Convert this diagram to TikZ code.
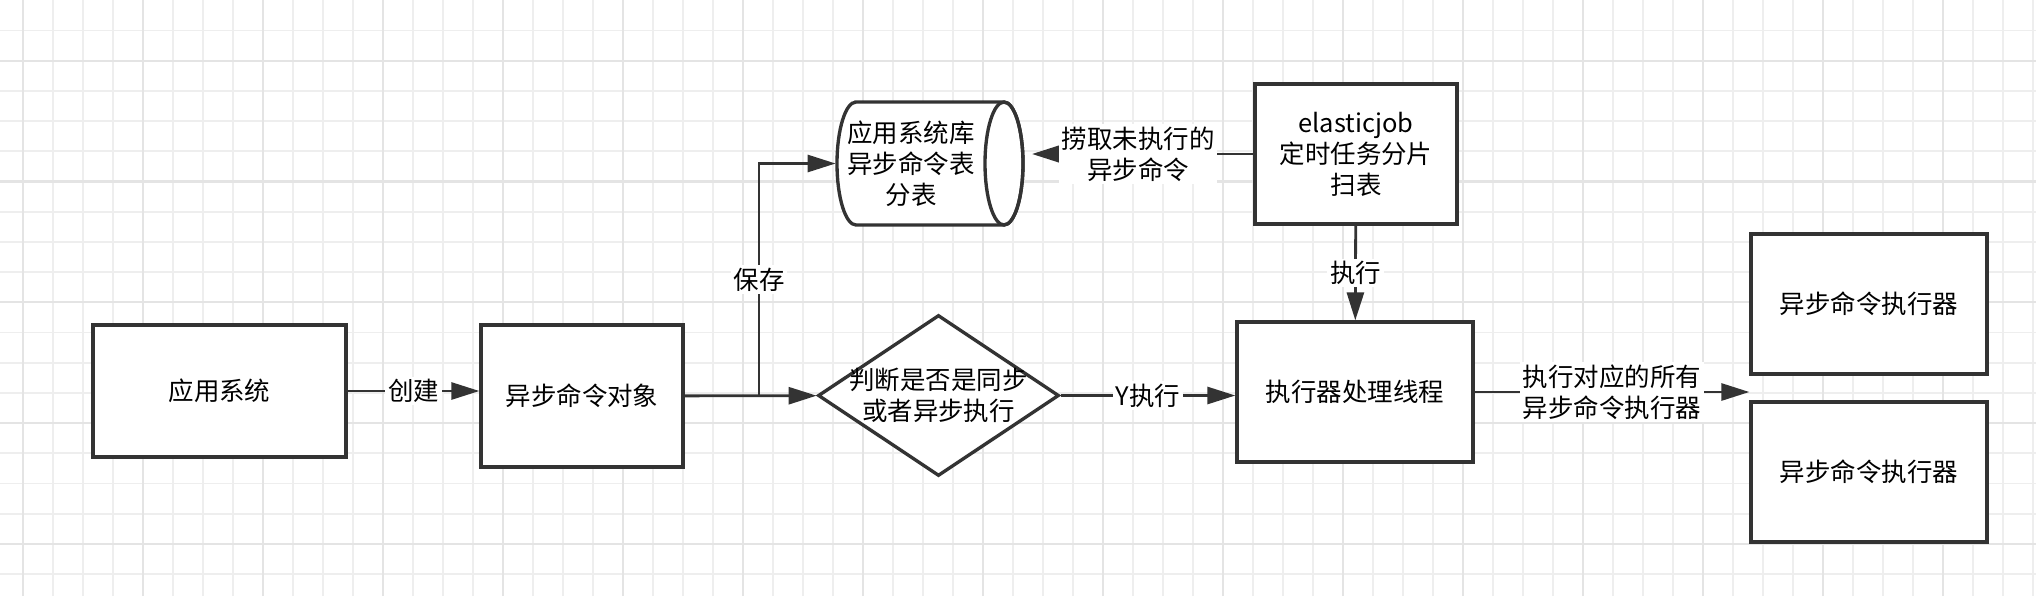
\documentclass[tikz,border=0pt]{standalone}
\usepackage{fontspec}
\setmainfont{Noto Sans CJK SC}
\usepackage{tikz}
\usetikzlibrary{positioning,arrows.meta,calc,shapes.geometric}
\definecolor{gridminor}{RGB}{238,238,238}
\definecolor{gridmajor}{RGB}{228,228,228}
\definecolor{linegray}{RGB}{51,51,51}

\begin{document}
\begin{tikzpicture}[x=0.02cm, y=-0.02cm, ->, >={Triangle[length=0.56cm, width=0.34cm]},
        line width=1.6pt, color=linegray, font=\fontsize{14.5pt}{17.6pt}\selectfont,
        every node/.style={text=black},
        main node/.style={rectangle, draw, line width=1.9pt, fill=white, align=center,
        inner sep=2pt, minimum width=4.72cm, minimum height=2.8cm},
        store node/.style={rectangle, align=center, inner sep=1pt,
        minimum width=2.96cm, minimum height=2.46cm},
        choice node/.style={diamond, draw, line width=1.9pt, fill=white, inner sep=0pt,
        minimum width=4.82cm, minimum height=3.22cm},
        edge label/.style={fill=white, inner sep=1.5pt, align=center}]
        \useasboundingbox (0,0) rectangle (2036,596);
        \fill[white] (0,0) rectangle (2036,596);
        \foreach \gx in {23,53,...,2033} \draw[-, line width=1.1pt, gridminor] (\gx,0) -- (\gx,596);
        \foreach \gy in {30.5,60.7,...,590} \draw[-, line width=1.1pt, gridminor] (0,\gy) -- (2036,\gy);
        \foreach \gx in {23,143,...,2033} \draw[-, line width=1.2pt, gridmajor] (\gx,0) -- (\gx,596);
        \foreach \gy in {60.7,181.5,...,596} \draw[-, line width=1.2pt, gridmajor] (0,\gy) -- (2036,\gy);

        \node[main node, minimum width=5.06cm, minimum height=2.64cm] (app) at (219.5,391) {应用系统};
        \node[main node, minimum width=4.04cm, minimum height=2.84cm] (cmd) at (582,396) {异步命令对象};
        \node[choice node, label={[align=center]center:判断是否是同步\\或者异步执行}] (check) at (938.5,395.5) {};
        \node[main node, minimum width=4.04cm] (job) at (1356,154) {elasticjob\\定时任务分片\\扫表};
        \node[main node] (worker) at (1355,392) {执行器处理线程};
        \node[main node] (exec1) at (1869,304) {异步命令执行器};
        \node[main node] (exec2) at (1869,472) {异步命令执行器};
        \coordinate (split) at (759,396);

        % database drawn as a lying cylinder around its text
        \coordinate (dbface) at (1004,163.5);
        \draw[-, line width=1.9pt, fill=white] (856,102) -- (1004,102)
            arc[start angle=90, end angle=-90, x radius=0.38cm, y radius=1.23cm] -- (856,225)
            arc[start angle=270, end angle=90, x radius=0.38cm, y radius=1.23cm] -- cycle;
        \draw[-, line width=1.9pt] (dbface) ellipse[x radius=0.38cm, y radius=1.23cm];
        \node[store node] (db) at (911,163.5) {应用系统库\\异步命令表\\分表};

        \draw (app.east) -- (app.east -| cmd.west) node[midway, edge label] {创建};
        \draw (cmd) -- (check);
        \draw (split) |- (db.west) node[pos=0.25, edge label] {保存};
        \draw[shorten >=0.18cm] (job.west) -- ($(job.west -| dbface)+(19,0)$) node[midway, edge label] {捞取未执行的\\异步命令};
        \draw (job) -- (worker) node[midway, edge label] {执行};
        \draw (check.east) -- (check.east -| worker.west) node[midway, edge label] {Y执行};
        \draw (worker.east) -- (worker.east -| exec1.west) node[midway, edge label] {执行对应的所有\\异步命令执行器};
\end{tikzpicture}
\end{document}
